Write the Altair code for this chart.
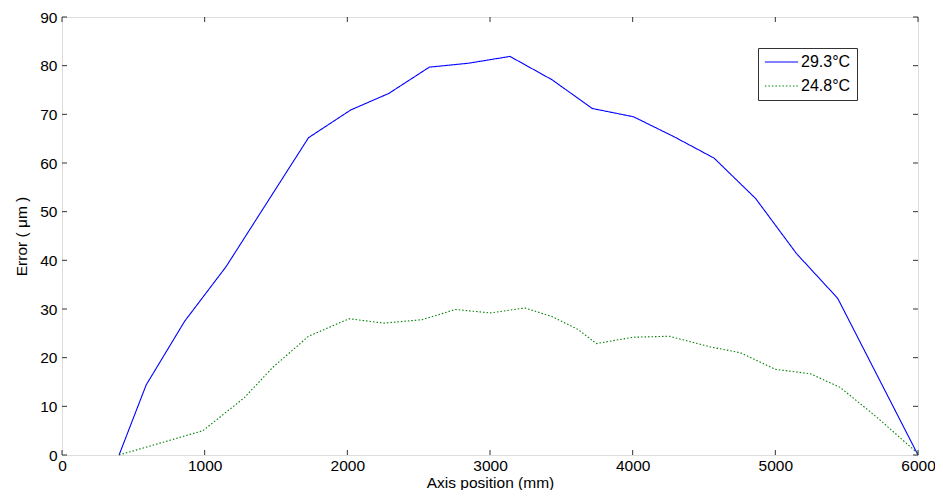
import altair as alt
import pandas as pd

# Data
x_hot = [400, 590, 860, 1150, 1440, 1728, 2024, 2291, 2575, 2849, 3140, 3435, 3717, 4006, 4290, 4571, 4862, 5148, 5437, 6000]
y_hot = [0, 14.4, 27.5, 38.7, 52.0, 65.2, 70.9, 74.3, 79.7, 80.5, 81.9, 77.1, 71.2, 69.5, 65.4, 61.0, 52.7, 41.4, 32.2, 0]

x_cool = [400, 988, 1279, 1477, 1728, 2012, 2256, 2524, 2757, 3001, 3245, 3431, 3617, 3745, 4006, 4257, 4547, 4756, 5000, 5245, 5454, 5710, 6000]
y_cool = [0, 5.0, 11.8, 18.0, 24.4, 28.0, 27.1, 27.8, 29.9, 29.2, 30.2, 28.5, 25.8, 22.9, 24.2, 24.4, 22.2, 21.0, 17.6, 16.7, 13.9, 7.8, 0.3]

series_names = ["29.3°C", "24.8°C"]
series_colors = ["#0000ff", "#008000"]

x_ticks = [0, 1000, 2000, 3000, 4000, 5000, 6000]
y_ticks = [0, 10, 20, 30, 40, 50, 60, 70, 80, 90]

W, H = 856, 438
FONT = "Liberation Sans"
FS = 15.5

rows = []
for i, (xs, ys) in enumerate([(x_hot, y_hot), (x_cool, y_cool)]):
    for k, (a, b) in enumerate(zip(xs, ys)):
        rows.append({"pos": a, "err": b, "series": series_names[i], "order": k})
df = pd.DataFrame(rows)

xscale = alt.Scale(domain=[0, 6000], nice=False, zero=False)
yscale = alt.Scale(domain=[0, 90], nice=False, zero=False)

xaxis = alt.Axis(values=x_ticks, ticks=False, domain=False, grid=False, format="d",
                 title="Axis position (mm)", labelFontSize=FS, titleFontSize=FS,
                 labelFont=FONT, titleFont=FONT, labelColor="black", titleColor="black",
                 titleFontWeight="normal", labelPadding=3, titleY=32, titleBaseline="alphabetic",
                 labelFlush=False)
yaxis = alt.Axis(values=y_ticks, ticks=False, domain=False, grid=False, format="d",
                 title="Error ( μm )", labelFontSize=FS, titleFontSize=FS,
                 labelFont=FONT, titleFont=FONT, labelColor="black", titleColor="black",
                 titleFontWeight="normal", labelPadding=5, titlePadding=10,
                 labelFlush=False)

legend = alt.Legend(title=None, orient="none", legendX=696, legendY=31,
                    symbolType="stroke", symbolSize=1100, symbolStrokeWidth=1.2,
                    labelFontSize=16, labelFont=FONT, labelColor="black",
                    strokeColor="#333333", fillColor="white", padding=6,
                    clipHeight=16, cornerRadius=0, rowPadding=8, labelOffset=2)

lines = alt.Chart(df).mark_line(strokeWidth=1.1).encode(
    x=alt.X("pos:Q", scale=xscale, axis=xaxis),
    y=alt.Y("err:Q", scale=yscale, axis=yaxis),
    stroke=alt.Stroke("series:N", scale=alt.Scale(domain=series_names, range=series_colors),
                      sort=series_names, legend=legend),
    strokeDash=alt.StrokeDash("series:N", scale=alt.Scale(domain=series_names, range=[[1, 0], [1.5, 2]]),
                              sort=series_names, legend=legend),
    order="order:Q",
)

tx = pd.DataFrame({"pos": x_ticks})
ty = pd.DataFrame({"err": y_ticks})
tick_color = "#333333"
bottom = alt.Chart(tx).mark_rule(color=tick_color).encode(
    x=alt.X("pos:Q", scale=xscale, axis=xaxis), y=alt.value(H), y2=alt.value(H - 5))
top = alt.Chart(tx).mark_rule(color=tick_color).encode(
    x=alt.X("pos:Q", scale=xscale, axis=xaxis), y=alt.value(0), y2=alt.value(5))
left = alt.Chart(ty).mark_rule(color=tick_color).encode(
    y=alt.Y("err:Q", scale=yscale, axis=yaxis), x=alt.value(0), x2=alt.value(5))
right = alt.Chart(ty).mark_rule(color=tick_color).encode(
    y=alt.Y("err:Q", scale=yscale, axis=yaxis), x=alt.value(W), x2=alt.value(W - 5))

chart = alt.layer(lines, bottom, top, left, right).properties(
    width=W, height=H,
    autosize=alt.AutoSizeParams(type="none"),
    padding={"left": 54, "top": 9, "right": 17, "bottom": 35},
).configure_view(stroke="#666666", strokeWidth=1.2).configure(background="white")

chart.save("out.html", embed_options={"renderer": "svg", "actions": False})
